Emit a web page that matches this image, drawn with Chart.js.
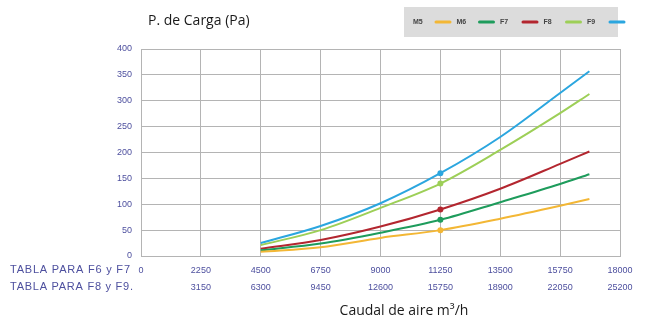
<!DOCTYPE html>
<html>
<head>
<meta charset="utf-8">
<script src="https://cdn.jsdelivr.net/npm/chart.js@4/dist/chart.umd.min.js"></script>
<style>
  html, body { margin: 0; padding: 0; background: #ffffff; }
  #wrap { width: 646px; height: 325px; position: relative; }
</style>
</head>
<body>
<div id="wrap"><canvas id="c" width="646" height="325"></canvas></div>
<script>
// Airflow (m3/h) at which each curve is sampled
const caudal = [4500, 6750, 9000, 11250, 13500, 15750, 16850];

// Pressure drop (Pa) per filter class
const seriesM5 = [8, 17, 35, 50, 72, 97, 110];
const seriesM6 = [11, 24, 45, 70, 104, 139, 158];
const seriesF7 = [14, 31, 57, 90, 130, 178, 202];
const seriesF8 = [21, 50, 93, 140, 205, 276, 313];
const seriesF9 = [25, 58, 102, 160, 230, 315, 357];

const seriesNames = ['M5', 'M6', 'F7', 'F8', 'F9'];

// Two rows of airflow labels under the axis
const rowLabelsF6F7 = ['0', '2250', '4500', '6750', '9000', '11250', '13500', '15750', '18000'];
const rowLabelsF8F9 = ['', '3150', '6300', '9450', '12600', '15750', '18900', '22050', '25200'];
const rowTitles = ['TABLA PARA F6 y F7', 'TABLA PARA F8 y F9.'];

const markedFlow = 11250;

const colors = ['#f3b735', '#1e9c5c', '#b3262f', '#9dcf57', '#2ba6df'];
const allSeries = [seriesM5, seriesM6, seriesF7, seriesF8, seriesF9];

const datasets = allSeries.map((vals, i) => ({
  label: seriesNames[i],
  data: caudal.map((x, j) => ({ x: x, y: vals[j] })),
  borderColor: colors[i],
  backgroundColor: colors[i],
  borderWidth: 2,
  cubicInterpolationMode: 'monotone',
  pointRadius: ctx => (ctx.raw && ctx.raw.x === markedFlow ? 3 : 0),
  pointBorderWidth: 0,
  fill: false
}));

const tickBlue = '#4d4f9e';

// draws text with letter spacing chosen so it spans the given width
function spacedText(ctx, text, x, y, width) {
  ctx.letterSpacing = '0px';
  const w = ctx.measureText(text).width;
  const ls = Math.max(0, (width - w) / (text.length - 1));
  ctx.letterSpacing = ls.toFixed(2) + 'px';
  ctx.fillText(text, x, y);
  ctx.letterSpacing = '0px';
}

// Legend box, row titles and axis titles
const decorations = {
  id: 'decorations',
  afterDraw(chart) {
    const ctx = chart.ctx;
    ctx.save();

    // axis titles
    ctx.fillStyle = '#1a1a1a';
    ctx.font = '14px "Open Sans", "Noto Sans", sans-serif';
    ctx.textBaseline = 'middle';
    ctx.textAlign = 'left';
    ctx.fillText('P. de Carga (Pa)', 148, 21);
    ctx.textAlign = 'center';
    ctx.fillText('Caudal de aire m\u00B3/h', 404, 311);

    // row titles for the two airflow tables
    ctx.fillStyle = tickBlue;
    ctx.textAlign = 'left';
    ctx.font = '11px "Liberation Sans", Arial, sans-serif';
    const rowY = [270, 287];
    const rowW = [120, 123];
    rowTitles.forEach((t, i) => spacedText(ctx, t, 10, rowY[i], rowW[i]));

    // legend
    const bx = 404, by = 7, bw = 214, bh = 30;
    ctx.fillStyle = '#dcdcdc';
    ctx.fillRect(bx, by, bw, bh);
    ctx.font = 'bold 7px "Liberation Sans", Arial, sans-serif';
    ctx.textBaseline = 'middle';
    const cy = by + bh / 2;
    chart.data.datasets.forEach((ds, i) => {
      const x0 = 413 + i * 43.5;
      ctx.fillStyle = '#444444';
      ctx.textAlign = 'left';
      ctx.fillText(ds.label, x0, cy);
      ctx.strokeStyle = ds.borderColor;
      ctx.lineWidth = 3;
      ctx.lineCap = 'round';
      ctx.beginPath();
      ctx.moveTo(x0 + 23, cy);
      ctx.lineTo(x0 + 37, cy);
      ctx.stroke();
    });

    ctx.restore();
  }
};

new Chart(document.getElementById('c'), {
  type: 'line',
  data: { datasets: datasets },
  options: {
    responsive: false,
    animation: false,
    layout: { padding: { left: 100, right: 26, top: 49, bottom: 27 } },
    plugins: {
      legend: { display: false },
      tooltip: { enabled: false }
    },
    scales: {
      x: {
        type: 'linear',
        min: 0,
        max: 18000,
        afterFit: s => { s.height = 42; },
        afterBuildTicks: s => {
          s.ticks = rowLabelsF6F7.map((_, i) => ({ value: i * 2250 }));
        },
        grid: { color: '#b4b4b4', lineWidth: 1, drawTicks: false },
        border: { color: '#b4b4b4' },
        ticks: {
          color: tickBlue,
          padding: 6,
          maxRotation: 0,
          autoSkip: false,
          font: { family: '"Liberation Sans", Arial, sans-serif', size: 9, lineHeight: 1.9 },
          callback: (v, i) => [rowLabelsF6F7[i], rowLabelsF8F9[i]]
        }
      },
      y: {
        min: 0,
        max: 400,
        afterFit: s => { s.width = 41; },
        grid: { color: '#b4b4b4', lineWidth: 1, drawTicks: false },
        border: { color: '#b4b4b4' },
        ticks: {
          stepSize: 50,
          color: tickBlue,
          padding: 9,
          font: { family: '"Liberation Sans", Arial, sans-serif', size: 9 }
        }
      }
    }
  },
  plugins: [decorations]
});
</script>
</body>
</html>
